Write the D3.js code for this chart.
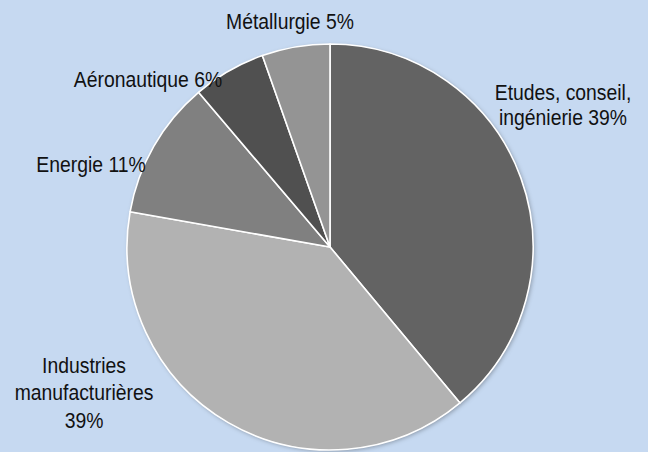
<!DOCTYPE html>
<html>
<head>
<meta charset="utf-8">
<script src="https://cdn.jsdelivr.net/npm/d3@7"></script>
<style>
  html, body { margin: 0; padding: 0; background: #c6d9f1; }
  svg { display: block; }
  text { font-family: "Liberation Sans", Arial, sans-serif; font-size: 21.5px; fill: #111; }
</style>
</head>
<body>
<svg id="chart" width="648" height="452"></svg>
<script>
const categories = ["Etudes, conseil, ingénierie", "Industries manufacturières", "Energie", "Aéronautique", "Métallurgie"];
const values = [38.9, 38.8, 11.0, 5.8, 5.4];
const labelLines = [
  ["Etudes, conseil,", "ingénierie 39%"],
  ["Industries", "manufacturières", "39%"],
  ["Energie 11%"],
  ["Aéronautique 6%"],
  ["Métallurgie 5%"]
];
const colors = ["#636363", "#b2b2b2", "#808080", "#505050", "#949494"];

const W = 648, H = 452;
const cx = 330, cy = 247, R = 203;
const svg = d3.select("#chart");
svg.append("rect").attr("width", W).attr("height", H).attr("fill", "#c6d9f1");

const defs = svg.append("defs");
const f = defs.append("filter").attr("id", "sh").attr("x", "-10%").attr("y", "-10%").attr("width", "120%").attr("height", "120%");
f.append("feDropShadow").attr("dx", 1.5).attr("dy", 1.5).attr("stdDeviation", 2).attr("flood-color", "#000").attr("flood-opacity", 0.3);

const data = categories.map((c, i) => ({ cat: c, value: values[i], color: colors[i], lines: labelLines[i] }));
const pie = d3.pie().value(d => d.value).sort(null);
const arc = d3.arc().innerRadius(0).outerRadius(R);
const arcs = pie(data);

const g = svg.append("g").attr("transform", `translate(${cx},${cy})`);
g.append("circle").attr("r", R).attr("fill", "#c6d9f1").attr("filter", "url(#sh)");
g.selectAll("path.slice").data(arcs).enter().append("path")
  .attr("class", "slice")
  .attr("d", arc)
  .attr("fill", d => d.data.color)
  .attr("stroke", "#ffffff")
  .attr("stroke-width", 1.6)
  .attr("stroke-linejoin", "round");

// label anchor positions (center x, first baseline y, line height)
const labelPos = [
  [563, 99.5, 25.5],
  [84, 372.7, 27.8],
  [91, 172.3, 0],
  [148, 87.3, 0],
  [290, 29.3, 0]
];
const sx = 0.9;
const lg = svg.append("g");
data.forEach((d, i) => {
  const [x, y, lh] = labelPos[i];
  const t = lg.append("text").attr("text-anchor", "middle")
    .attr("transform", `translate(${x},${y}) scale(${sx},1)`);
  d.lines.forEach((ln, j) => {
    t.append("tspan").attr("x", 0).attr("y", j * lh).text(ln);
  });
});
</script>
</body>
</html>
